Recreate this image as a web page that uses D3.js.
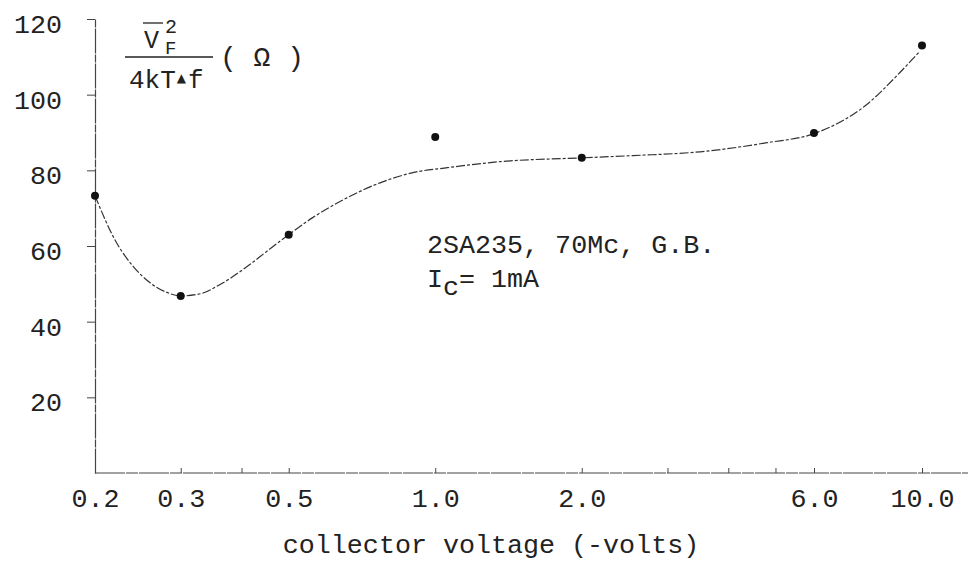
<!DOCTYPE html>
<html>
<head>
<meta charset="utf-8">
<script src="https://cdn.jsdelivr.net/npm/d3@7"></script>
<style>
  body { margin: 0; background: #fff; }
  text { font-family: "Liberation Mono", "DejaVu Sans Mono", monospace; fill: #222; }
</style>
</head>
<body>
<svg></svg>
<script>
// measured points
var voltage = [0.2, 0.3, 0.5, 1.0, 2.0, 6.0, 10.0];
var noise = [73.3, 46.8, 63.0, 88.8, 83.3, 89.9, 113.0];

// hand drawn curve
var curveVoltage = [0.2, 0.22, 0.24, 0.26, 0.28, 0.3, 0.33, 0.36, 0.41, 0.45, 0.5, 0.56, 0.66, 0.77, 0.9, 1.06, 1.36, 2.0, 2.55, 3.5, 4.8, 6.0, 7.7, 9.0, 9.9];
var curveNoise = [73.3, 61.5, 54.5, 50.2, 47.8, 46.8, 47.4, 49.7, 54.5, 58.5, 63.0, 67.5, 72.8, 76.7, 79.4, 80.7, 82.3, 83.3, 83.9, 84.9, 87.3, 89.7, 97.4, 105.8, 111.5];

var xTicks = [0.2, 0.3, 0.4, 0.5, 1, 2, 3, 4, 5, 6, 10];
var xLabels = [0.2, 0.3, 0.5, 1, 2, 6, 10];
var yTicks = [20, 40, 60, 80, 100, 120];

var svgWidth = 971, svgHeight = 574;
var svg = d3.select("svg")
  .attr("width", svgWidth)
  .attr("height", svgHeight);

var x = d3.scaleLog()
  .domain([0.2, 10])
  .range([95, 922]);
var y = d3.scaleLinear()
  .domain([0, 120])
  .range([473, 19]);

// x axis, line runs on to the page edge
var xAxis = svg.append("g")
  .attr("transform", "translate(0," + y(0) + ")")
  .call(d3.axisBottom(x)
    .tickValues(xTicks)
    .tickSize(-5)
    .tickPadding(15)
    .tickFormat(function(d) {
      return xLabels.indexOf(d) >= 0 ? d3.format(".1f")(d) : "";
    }));
xAxis.select(".domain").remove();
xAxis.append("line")
  .attr("x1", x(0.2)).attr("x2", 968)
  .attr("stroke", "#444").attr("stroke-width", 1.2)
  .attr("stroke-dasharray", "30,1,12,1");
xAxis.selectAll(".tick line").attr("stroke", "#444");
xAxis.selectAll("text")
  .style("font-size", "26.7px")
  .style("font-family", "Liberation Mono, monospace")
  .attr("fill", "#222");

var yAxis = svg.append("g")
  .attr("transform", "translate(" + x(0.2) + ",0)")
  .call(d3.axisLeft(y)
    .tickValues(yTicks)
    .tickSize(8)
    .tickSizeOuter(0)
    .tickPadding(25));
yAxis.select(".domain")
  .attr("stroke", "#444").attr("stroke-width", 1.2)
  .attr("stroke-dasharray", "25,1,8,1");
yAxis.selectAll(".tick line").attr("stroke", "#444");
yAxis.selectAll("text")
  .attr("dy", "0.5em")
  .style("font-size", "26.7px")
  .style("font-family", "Liberation Mono, monospace")
  .attr("fill", "#222");

// curve
var curveData = curveVoltage.map(function(d, i) { return [d, curveNoise[i]]; });
var line = d3.line()
  .x(function(d) { return x(d[0]); })
  .y(function(d) { return y(d[1]); })
  .curve(d3.curveMonotoneX);
svg.append("path")
  .datum(curveData)
  .attr("d", line)
  .attr("fill", "none")
  .attr("stroke", "#333")
  .attr("stroke-width", 1.2)
  .attr("stroke-dasharray", "9,2,3,2");

// points
svg.selectAll("circle")
  .data(voltage)
  .enter()
  .append("circle")
  .attr("cx", function(d) { return x(d); })
  .attr("cy", function(d, i) { return y(noise[i]); })
  .attr("r", 4)
  .attr("fill", "#111");

// y label as a fraction
var ylab = svg.append("g");
ylab.append("text").attr("x", 144).attr("y", 48)
  .style("font-size", "25px").text("V");
ylab.append("line").attr("x1", 143).attr("x2", 163).attr("y1", 23).attr("y2", 23)
  .attr("stroke", "#222").attr("stroke-width", 1.3);
ylab.append("text").attr("x", 165).attr("y", 33)
  .style("font-size", "20px").text("2");
ylab.append("text").attr("x", 165).attr("y", 54)
  .style("font-size", "19px").text("F");
ylab.append("line").attr("x1", 125).attr("x2", 213).attr("y1", 57).attr("y2", 57)
  .attr("stroke", "#222").attr("stroke-width", 1.3);
var den = ylab.append("text").attr("x", 129).attr("y", 88)
  .style("font-size", "26px");
den.append("tspan").text("4kT");
den.append("tspan").style("font-size", "12px").attr("dy", -6).attr("dx", 1)
  .style("font-family", "DejaVu Sans").text("\u25B2");
den.append("tspan").attr("dy", 6).attr("dx", 2).text("f");
ylab.append("text").attr("x", 220).attr("y", 66)
  .style("font-size", "28px").text("( \u03A9 )");

// annotation
svg.append("text").attr("x", 427).attr("y", 253)
  .style("font-size", "26.7px")
  .text("2SA235, 70Mc, G.B.");
var ic = svg.append("text").attr("x", 427).attr("y", 287)
  .style("font-size", "26.7px");
ic.append("tspan").text("I");
ic.append("tspan").attr("dy", 8).text("c");
ic.append("tspan").attr("dy", -8).text("= 1mA");

svg.append("text")
  .attr("x", 491).attr("y", 553)
  .attr("text-anchor", "middle")
  .style("font-size", "26.7px")
  .text("collector voltage (-volts)");
</script>
</body>
</html>
